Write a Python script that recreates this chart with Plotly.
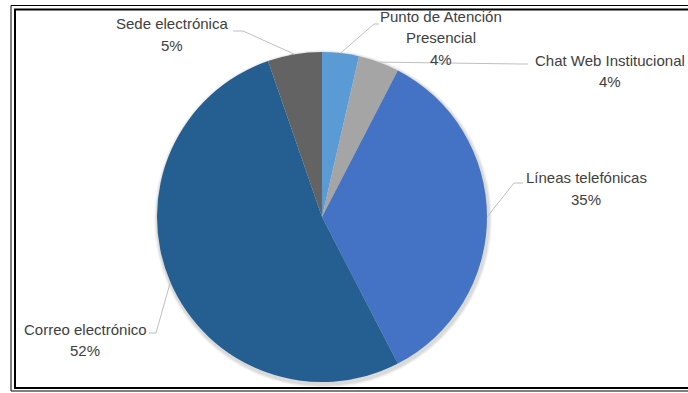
import math
import plotly.graph_objects as go

W, H = 688, 393

# Data
categories = ["Punto de Atención<br>Presencial", "Chat Web Institucional", "Líneas telefónicas",
              "Correo electrónico", "Sede electrónica"]
values = [3.6, 4.0, 34.8, 52.3, 5.3]
pct_labels = ["4%", "4%", "35%", "52%", "5%"]
colors = ["#5B9BD5", "#A5A5A5", "#4472C4", "#255E91", "#636363"]

# Layout geometry (pixels)
cx, cy, R = 322, 217, 165
label_x = [441, 610, 586, 85, 172]
label_y0 = [16, 60, 178, 329, 24]
line_gap = 21.5
# leader line bends (pixel) : elbow point, end point
leader = [
    [(374, 24), (379, 24)],
    [(520, 64), (528, 64)],
    [(514, 183), (523, 183)],
    [(156, 333), (149, 333)],
    [(243, 31), (233, 31)],
]

def px(x):
    return x / W

def py(y):
    return 1 - y / H

fig = go.Figure()
fig.add_trace(go.Pie(
    labels=[c.replace("<br>", " ") for c in categories],
    values=values,
    marker=dict(colors=colors, line=dict(color="white", width=0)),
    sort=False,
    direction="clockwise",
    rotation=0,
    textinfo="none",
    hoverinfo="label+percent",
    showlegend=False,
    domain=dict(x=[px(cx - R), px(cx + R)], y=[py(cy + R), py(cy - R)]),
))

shapes = []
# soft shadow behind pie
for d, op in [(4, 0.04), (3, 0.05), (2, 0.06)]:
    shapes.append(dict(type="circle", xref="paper", yref="paper",
                       x0=px(cx - R - d + 1), x1=px(cx + R + d + 1),
                       y0=py(cy + R + d + 2), y1=py(cy - R - d + 2),
                       line=dict(width=0), fillcolor=f"rgba(0,0,0,{op})", layer="below"))

total = sum(values)
cum = 0
annotations = []
font = dict(family="Liberation Sans Narrow, Arial Narrow, Liberation Sans, Arial", size=15, color="#404040")
for i, v in enumerate(values):
    mid = (cum + v / 2) / total * 2 * math.pi
    cum += v
    ax = cx + R * math.sin(mid)
    ay = cy - R * math.cos(mid)
    (ex, ey), (fx, fy) = leader[i]
    path = f"M {px(ax)},{py(ay)} L {px(ex)},{py(ey)} L {px(fx)},{py(fy)}"
    shapes.append(dict(type="path", xref="paper", yref="paper", path=path,
                       line=dict(color="#BFBFBF", width=1)))
    lines = categories[i].split("<br>") + [pct_labels[i]]
    for k, t in enumerate(lines):
        annotations.append(dict(x=px(label_x[i]), y=py(label_y0[i] + k * line_gap),
                                xref="paper", yref="paper", text=t,
                                showarrow=False, xanchor="center", yanchor="middle",
                                font=font, align="center"))

# double frame
shapes.append(dict(type="rect", xref="paper", yref="paper",
                   x0=px(11), x1=px(W + 20), y0=py(391), y1=py(5.5),
                   line=dict(color="black", width=1)))
shapes.append(dict(type="rect", xref="paper", yref="paper",
                   x0=px(15), x1=px(W + 20), y0=py(388), y1=py(9.5),
                   line=dict(color="black", width=2)))

fig.update_layout(
    width=W, height=H,
    margin=dict(l=0, r=0, t=0, b=0),
    paper_bgcolor="white", plot_bgcolor="white",
    shapes=shapes, annotations=annotations,
)

fig.write_html("out.html")
